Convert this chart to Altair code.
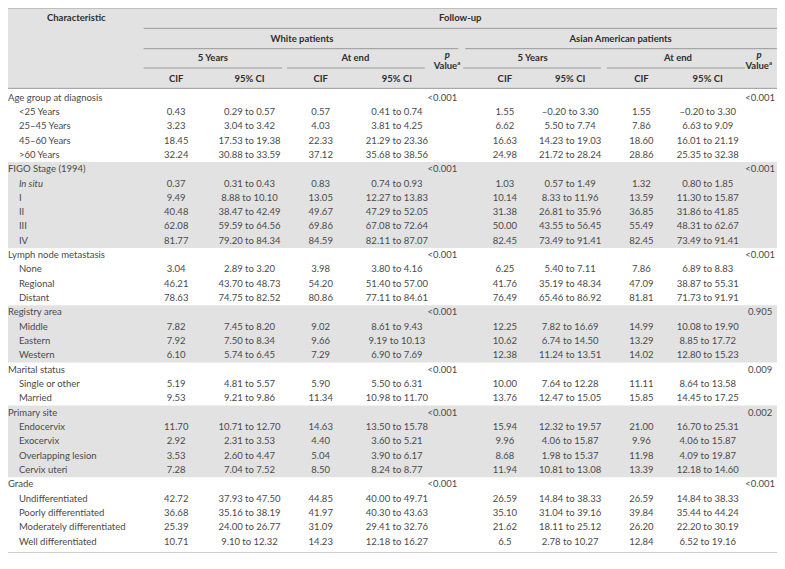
import altair as alt
import pandas as pd

# ---------------- data ----------------
group_names = ["Age group at diagnosis", "FIGO Stage (1994)", "Lymph node metastasis",
               "Registry area", "Marital status", "Primary site", "Grade"]
group_items = [
    ["<25 Years", "25–45 Years", "45–60 Years", ">60 Years"],
    ["In situ", "I", "II", "III", "IV"],
    ["None", "Regional", "Distant"],
    ["Middle", "Eastern", "Western"],
    ["Single or other", "Married"],
    ["Endocervix", "Exocervix", "Overlapping lesion", "Cervix uteri"],
    ["Undifferentiated", "Poorly differentiated", "Moderately differentiated", "Well differentiated"],
]
shaded_groups = ["FIGO Stage (1994)", "Registry area", "Primary site"]
italic_items = ["In situ"]

white_5y_cif = ["0.43", "3.23", "18.45", "32.24",
                "0.37", "9.49", "40.48", "62.08", "81.77",
                "3.04", "46.21", "78.63",
                "7.82", "7.92", "6.10",
                "5.19", "9.53",
                "11.70", "2.92", "3.53", "7.28",
                "42.72", "36.68", "25.39", "10.71"]
white_5y_ci = ["0.29 to 0.57", "3.04 to 3.42", "17.53 to 19.38", "30.88 to 33.59",
               "0.31 to 0.43", "8.88 to 10.10", "38.47 to 42.49", "59.59 to 64.56", "79.20 to 84.34",
               "2.89 to 3.20", "43.70 to 48.73", "74.75 to 82.52",
               "7.45 to 8.20", "7.50 to 8.34", "5.74 to 6.45",
               "4.81 to 5.57", "9.21 to 9.86",
               "10.71 to 12.70", "2.31 to 3.53", "2.60 to 4.47", "7.04 to 7.52",
               "37.93 to 47.50", "35.16 to 38.19", "24.00 to 26.77", "9.10 to 12.32"]
white_end_cif = ["0.57", "4.03", "22.33", "37.12",
                 "0.83", "13.05", "49.67", "69.86", "84.59",
                 "3.98", "54.20", "80.86",
                 "9.02", "9.66", "7.29",
                 "5.90", "11.34",
                 "14.63", "4.40", "5.04", "8.50",
                 "44.85", "41.97", "31.09", "14.23"]
white_end_ci = ["0.41 to 0.74", "3.81 to 4.25", "21.29 to 23.36", "35.68 to 38.56",
                "0.74 to 0.93", "12.27 to 13.83", "47.29 to 52.05", "67.08 to 72.64", "82.11 to 87.07",
                "3.80 to 4.16", "51.40 to 57.00", "77.11 to 84.61",
                "8.61 to 9.43", "9.19 to 10.13", "6.90 to 7.69",
                "5.50 to 6.31", "10.98 to 11.70",
                "13.50 to 15.78", "3.60 to 5.21", "3.90 to 6.17", "8.24 to 8.77",
                "40.00 to 49.71", "40.30 to 43.63", "29.41 to 32.76", "12.18 to 16.27"]
asian_5y_cif = ["1.55", "6.62", "16.63", "24.98",
                "1.03", "10.14", "31.38", "50.00", "82.45",
                "6.25", "41.76", "76.49",
                "12.25", "10.62", "12.38",
                "10.00", "13.76",
                "15.94", "9.96", "8.68", "11.94",
                "26.59", "35.10", "21.62", "6.5"]
asian_5y_ci = ["–0.20 to 3.30", "5.50 to 7.74", "14.23 to 19.03", "21.72 to 28.24",
               "0.57 to 1.49", "8.33 to 11.96", "26.81 to 35.96", "43.55 to 56.45", "73.49 to 91.41",
               "5.40 to 7.11", "35.19 to 48.34", "65.46 to 86.92",
               "7.82 to 16.69", "6.74 to 14.50", "11.24 to 13.51",
               "7.64 to 12.28", "12.47 to 15.05",
               "12.32 to 19.57", "4.06 to 15.87", "1.98 to 15.37", "10.81 to 13.08",
               "14.84 to 38.33", "31.04 to 39.16", "18.11 to 25.12", "2.78 to 10.27"]
asian_end_cif = ["1.55", "7.86", "18.60", "28.86",
                 "1.32", "13.59", "36.85", "55.49", "82.45",
                 "7.86", "47.09", "81.81",
                 "14.99", "13.29", "14.02",
                 "11.11", "15.85",
                 "21.00", "9.96", "11.98", "13.39",
                 "26.59", "39.84", "26.20", "12.84"]
asian_end_ci = ["–0.20 to 3.30", "6.63 to 9.09", "16.01 to 21.19", "25.35 to 32.38",
                "0.80 to 1.85", "11.30 to 15.87", "31.86 to 41.85", "48.31 to 62.67", "73.49 to 91.41",
                "6.89 to 8.83", "38.87 to 55.31", "71.73 to 91.91",
                "10.08 to 19.90", "8.85 to 17.72", "12.80 to 15.23",
                "8.64 to 13.58", "14.45 to 17.25",
                "16.70 to 25.31", "4.06 to 15.87", "4.09 to 19.87", "12.18 to 14.60",
                "14.84 to 38.33", "35.44 to 44.24", "22.20 to 30.19", "6.52 to 19.16"]
p_white = ["<0.001", "<0.001", "<0.001", "<0.001", "<0.001", "<0.001", "<0.001"]
p_asian = ["<0.001", "<0.001", "<0.001", "0.905", "0.009", "0.002", "<0.001"]

# ---------------- layout (reference pixel space) ----------------
W, H = 769, 545
X_LEFT, X_RIGHT = 3, 780
Y_TOP, Y_BOTTOM = 3, 566
ROW0, STEP = 95.5, 14.8
CAT_X, ITEM_X = 3, 14
col_x = {"w5c": 173, "w5i": 247, "wec": 319, "wei": 396, "wp": 442,
         "a5c": 505, "a5i": 571, "aec": 643, "aei": 710, "ap": 763}
FONT = "Lato"
FS = 9.5
TXT = "#4a4a4a"
HDR = "#2e2e2e"
GRAY = "#e2e2e2"
LINE = "#9a9a9a"

series = {"w5c": white_5y_cif, "w5i": white_5y_ci, "wec": white_end_cif, "wei": white_end_ci,
          "a5c": asian_5y_cif, "a5i": asian_5y_ci, "aec": asian_end_cif, "aei": asian_end_ci}

cat_cells, item_cells, ital_cells, data_cells, p_cells, bands = [], [], [], [], [], []
k = 0
ii = 0
for gi, (g, items) in enumerate(zip(group_names, group_items)):
    y0 = ROW0 + STEP * k
    cat_cells.append(dict(x=CAT_X, y=y0, t=g))
    p_cells.append(dict(x=col_x["wp"], y=y0, t=p_white[gi]))
    p_cells.append(dict(x=col_x["ap"], y=y0, t=p_asian[gi]))
    start = k
    k += 1
    for it in items:
        y = ROW0 + STEP * k
        (ital_cells if it in italic_items else item_cells).append(dict(x=ITEM_X, y=y, t=it))
        for key, arr in series.items():
            data_cells.append(dict(x=col_x[key], y=y, t=arr[ii]))
        ii += 1
        k += 1
    if g in shaded_groups:
        bands.append(dict(x=X_LEFT, x2=X_RIGHT,
                          y=ROW0 + STEP * start - STEP / 2, y2=ROW0 + STEP * (k - 1) + STEP / 2))
bands.append(dict(x=X_LEFT, x2=X_RIGHT, y=Y_TOP, y2=86))

rules = [
    dict(x=X_LEFT, x2=X_RIGHT, y=Y_TOP),
    dict(x=140, x2=X_RIGHT, y=24),
    dict(x=140, x2=458, y=45), dict(x=465, x2=X_RIGHT, y=45),
    dict(x=140, x2=280, y=65), dict(x=285, x2=424, y=65),
    dict(x=463, x2=602, y=65), dict(x=608, x2=748, y=65),
    dict(x=X_LEFT, x2=X_RIGHT, y=86),
    dict(x=X_LEFT, x2=X_RIGHT, y=Y_BOTTOM),
]

hdr_bold = [
    dict(x=72, y=13, t="Characteristic"),
    dict(x=460, y=13, t="Follow-up"),
    dict(x=300, y=35, t="White patients"),
    dict(x=622, y=35, t="Asian American patients"),
    dict(x=210, y=55, t="5 Years"), dict(x=354, y=55, t="At end"),
    dict(x=533, y=55, t="5 Years"), dict(x=680, y=55, t="At end"),
    dict(x=col_x["w5c"], y=76, t="CIF"), dict(x=col_x["w5i"], y=76, t="95% CI"),
    dict(x=col_x["wec"], y=76, t="CIF"), dict(x=col_x["wei"], y=76, t="95% CI"),
    dict(x=col_x["a5c"], y=76, t="CIF"), dict(x=col_x["a5i"], y=76, t="95% CI"),
    dict(x=col_x["aec"], y=76, t="CIF"), dict(x=col_x["aei"], y=76, t="95% CI"),
    dict(x=445, y=63, t="Value"), dict(x=760, y=63, t="Value"),
]
hdr_p = [dict(x=447, y=52, t="p"), dict(x=762, y=52, t="p")]
hdr_sup = [dict(x=457, y=60, t="a"), dict(x=772, y=60, t="a")]

xs = alt.Scale(domain=[X_LEFT, X_RIGHT])
ys = alt.Scale(domain=[Y_TOP, Y_BOTTOM], reverse=True)


def text_layer(cells, align="center", weight="normal", style="normal", size=FS, color=TXT):
    return alt.Chart(pd.DataFrame(cells)).mark_text(
        align=align, baseline="middle", font=FONT, fontSize=size,
        fontWeight=weight, fontStyle=style, color=color,
    ).encode(
        x=alt.X("x:Q", scale=xs, axis=None),
        y=alt.Y("y:Q", scale=ys, axis=None),
        text="t:N",
    )


band_layer = alt.Chart(pd.DataFrame(bands)).mark_rect(color=GRAY).encode(
    x=alt.X("x:Q", scale=xs, axis=None), x2="x2:Q",
    y=alt.Y("y:Q", scale=ys, axis=None), y2="y2:Q",
)
rule_layer = alt.Chart(pd.DataFrame(rules)).mark_rule(color=LINE, strokeWidth=1).encode(
    x=alt.X("x:Q", scale=xs, axis=None), x2="x2:Q",
    y=alt.Y("y:Q", scale=ys, axis=None),
)

chart = alt.layer(
    band_layer,
    rule_layer,
    text_layer(cat_cells, align="left"),
    text_layer(item_cells, align="left"),
    text_layer(ital_cells, align="left", style="italic"),
    text_layer(data_cells),
    text_layer(p_cells),
    text_layer(hdr_bold, weight="bold", color=HDR),
    text_layer(hdr_p, weight="bold", style="italic", color=HDR),
    text_layer(hdr_sup, align="left", weight="bold", size=6, color=HDR),
).properties(
    width=W, height=H, padding=0,
    autosize=alt.AutoSizeParams(type="none"),
).configure_view(stroke=None)

chart.save("out.html", embed_options={"renderer": "svg", "actions": False})
